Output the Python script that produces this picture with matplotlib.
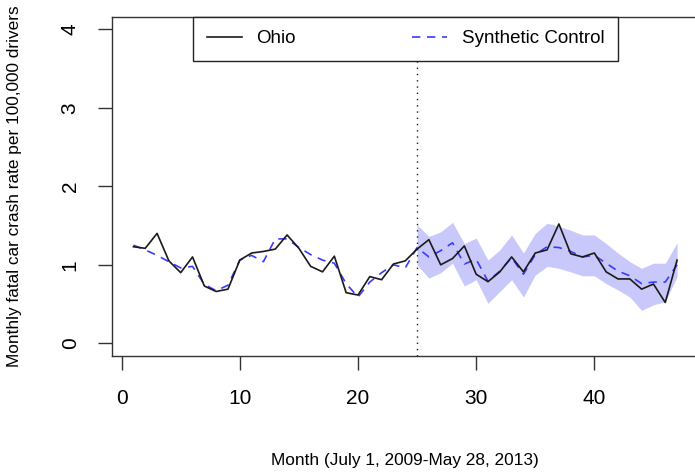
import matplotlib
matplotlib.use("Agg")
import matplotlib.pyplot as plt

# -----------------------------
# Data
# -----------------------------

months = list(range(1, 48))

ohio = [
    1.23, 1.21, 1.40, 1.05, 0.90, 1.10, 0.73, 0.66, 0.69, 1.06,
    1.15, 1.17, 1.20, 1.38, 1.21, 0.98, 0.91, 1.11, 0.645, 0.615,
    0.85, 0.81, 1.01, 1.05, 1.20, 1.32, 1.00, 1.08, 1.24, 0.88,
    0.785, 0.91, 1.10, 0.91, 1.15, 1.19, 1.52, 1.14, 1.10, 1.15,
    0.91, 0.82, 0.82, 0.69, 0.755, 0.52, 1.06
]

synthetic = [
    1.25, 1.19, 1.12, 1.04, 0.96, 0.98, 0.75, 0.67, 0.74, 1.06,
    1.12, 1.04, 1.33, 1.33, 1.22, 1.13, 1.06, 1.02, 0.76, 0.59,
    0.78, 0.90, 1.00, 0.96, 1.22, 1.10, 1.18, 1.28, 1.01, 1.07,
    0.79, 0.92, 1.09, 0.88, 1.13, 1.23, 1.22, 1.17, 1.10, 1.12,
    1.02, 0.92, 0.86, 0.76, 0.78, 0.78, 1.00
]

# confidence band, months 25-47
band_months = list(range(25, 48))

band_upper = [
    1.51, 1.36, 1.42, 1.54, 1.27, 1.34, 1.06, 1.19, 1.38, 1.15,
    1.40, 1.53, 1.49, 1.44, 1.38, 1.38, 1.27, 1.15, 1.04, 0.955,
    1.02, 1.02, 1.28
]

band_lower = [
    1.00, 0.83, 0.90, 1.02, 0.73, 0.81, 0.51, 0.66, 0.81, 0.59,
    0.87, 0.98, 0.955, 0.91, 0.86, 0.86, 0.76, 0.68, 0.59, 0.42,
    0.49, 0.53, 0.85
]

treatment_month = 25

x_ticks = [0, 10, 20, 30, 40]
y_ticks = [0, 1, 2, 3, 4]

# -----------------------------
# Style
# -----------------------------

plt.rcParams["font.family"] = ["Liberation Sans", "DejaVu Sans"]

fig = plt.figure(figsize=(6.95, 4.72), dpi=100)
ax = fig.add_axes([0.1607, 0.2460, 0.8448, 0.7187])

# -----------------------------
# Plot
# -----------------------------

ax.fill_between(
    band_months,
    band_lower,
    band_upper,
    color="#c8c8fa",
    linewidth=0,
    zorder=1
)

ohio_line, = ax.plot(
    months,
    ohio,
    color="#1a1a1a",
    linewidth=1.2,
    zorder=3
)

synth_line, = ax.plot(
    months,
    synthetic,
    color="#3a3aff",
    linewidth=1.2,
    linestyle=(0, (5, 4)),
    zorder=2
)

ax.axvline(
    treatment_month,
    color="#1a1a1a",
    linewidth=1.0,
    linestyle=(0, (1, 3.5)),
    zorder=2
)

ax.set_xlim(-0.84, 48.84)
ax.set_ylim(-0.16, 4.16)

ax.set_xticks(x_ticks)
ax.set_yticks(y_ticks)

ax.tick_params(
    axis="both",
    direction="out",
    length=10,
    width=1.0,
    labelsize=15,
    color="#333333"
)
ax.tick_params(axis="x", pad=14)
ax.tick_params(axis="y", pad=13)

for label in ax.get_yticklabels():
    label.set_rotation(90)
    label.set_va("center")

for spine in ax.spines.values():
    spine.set_linewidth(1.0)
    spine.set_color("#333333")

ax.set_xlabel(
    "Month (July 1, 2009-May 28, 2013)",
    fontsize=12.4,
    va="center"
)
ax.xaxis.set_label_coords(0.5, -0.307)

ax.set_ylabel(
    "Monthly fatal car crash rate per 100,000 drivers",
    fontsize=12.4,
    va="center"
)
ax.yaxis.set_label_coords(-0.1647, 0.5)

# -----------------------------
# Legend
# -----------------------------

legend = ax.legend(
    [ohio_line, synth_line],
    ["Ohio", "Synthetic Control"],
    ncol=2,
    mode="expand",
    loc="upper left",
    bbox_to_anchor=(0.1385, 0.0, 0.7238, 1.0),
    borderaxespad=0,
    borderpad=0.72,
    handlelength=1.87,
    handletextpad=0.8,
    fontsize=13.5,
    fancybox=False,
    framealpha=1,
    edgecolor="#222222"
)
legend.get_frame().set_linewidth(1.0)

plt.savefig("out.png", dpi=100)
